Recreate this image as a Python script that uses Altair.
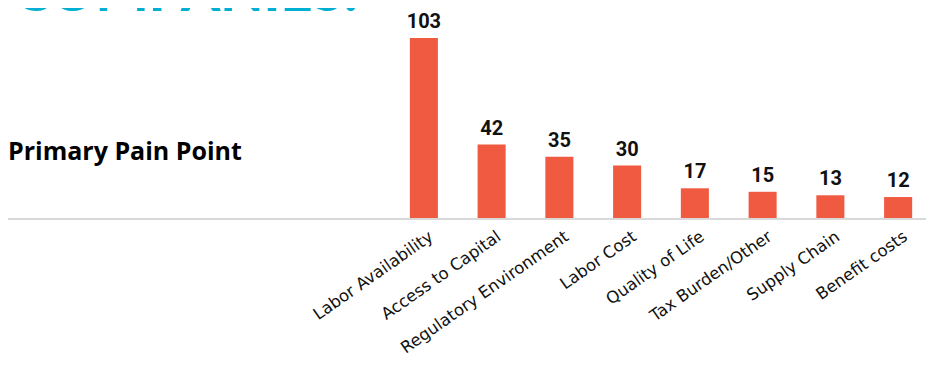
import altair as alt
import pandas as pd

categories = ["Labor Availability", "Access to Capital", "Regulatory Environment",
              "Labor Cost", "Quality of Life", "Tax Burden/Other", "Supply Chain", "Benefit costs"]
values = [103, 42, 35, 30, 17, 15, 13, 12]
heading = "COMPANIES:"
subtitle = "Primary Pain Point"

df = pd.DataFrame({"cat": categories, "val": values})

BAR = "#F05A41"
LABEL_FONT = "DejaVu Sans"
xs = alt.X("cat:N", sort=categories,
           scale=alt.Scale(range=[382, 924], paddingInner=0.586, paddingOuter=0.293),
           axis=alt.Axis(title=None, domain=False, ticks=False, labelAngle=325,
                         labelAlign="right", labelBaseline="top", labelPadding=10,
                         labelOffset=3, labelFont=LABEL_FONT, labelFontSize=16.5,
                         labelLimit=400, labelColor="#111111"))
ys = alt.Y("val:Q", scale=alt.Scale(domain=[0, 120.17], nice=False, zero=True), axis=None)

base = alt.Chart(df)
bars = base.mark_bar(color=BAR).encode(x=xs, y=ys)
labels = base.mark_text(dy=-10, baseline="alphabetic", font="Roboto", fontSize=20,
                        fontWeight="bold", color="#111111").encode(
    x=alt.X("cat:N", sort=categories), y="val:Q", text="val:Q")

rule = alt.Chart(pd.DataFrame({"v": [0]})).mark_rule(color="#d9d9d9", strokeWidth=2).encode(
    x=alt.value(0), x2=alt.value(926), y=alt.value(211))

head = alt.Chart(pd.DataFrame({"t": [heading]})).mark_text(
    align="left", baseline="alphabetic", font="Lato", fontSize=56, fontWeight=900,
    color="#00AFD1").encode(x=alt.value(6), y=alt.value(3), text="t:N")

sub = alt.Chart(pd.DataFrame({"t": [subtitle]})).mark_text(
    align="left", baseline="alphabetic", font="Open Sans", fontSize=25, fontWeight="bold",
    color="#000000").encode(x=alt.value(0), y=alt.value(151.5), text="t:N")

chart = alt.layer(rule, bars, labels, head, sub).properties(
    width=918, height=210,
    autosize=alt.AutoSizeParams(type="none"),
    padding={"left": 0, "top": 0, "right": 0, "bottom": 144},
).configure_view(stroke=None)

chart.save("out.html", embed_options={"renderer": "svg", "actions": False})
